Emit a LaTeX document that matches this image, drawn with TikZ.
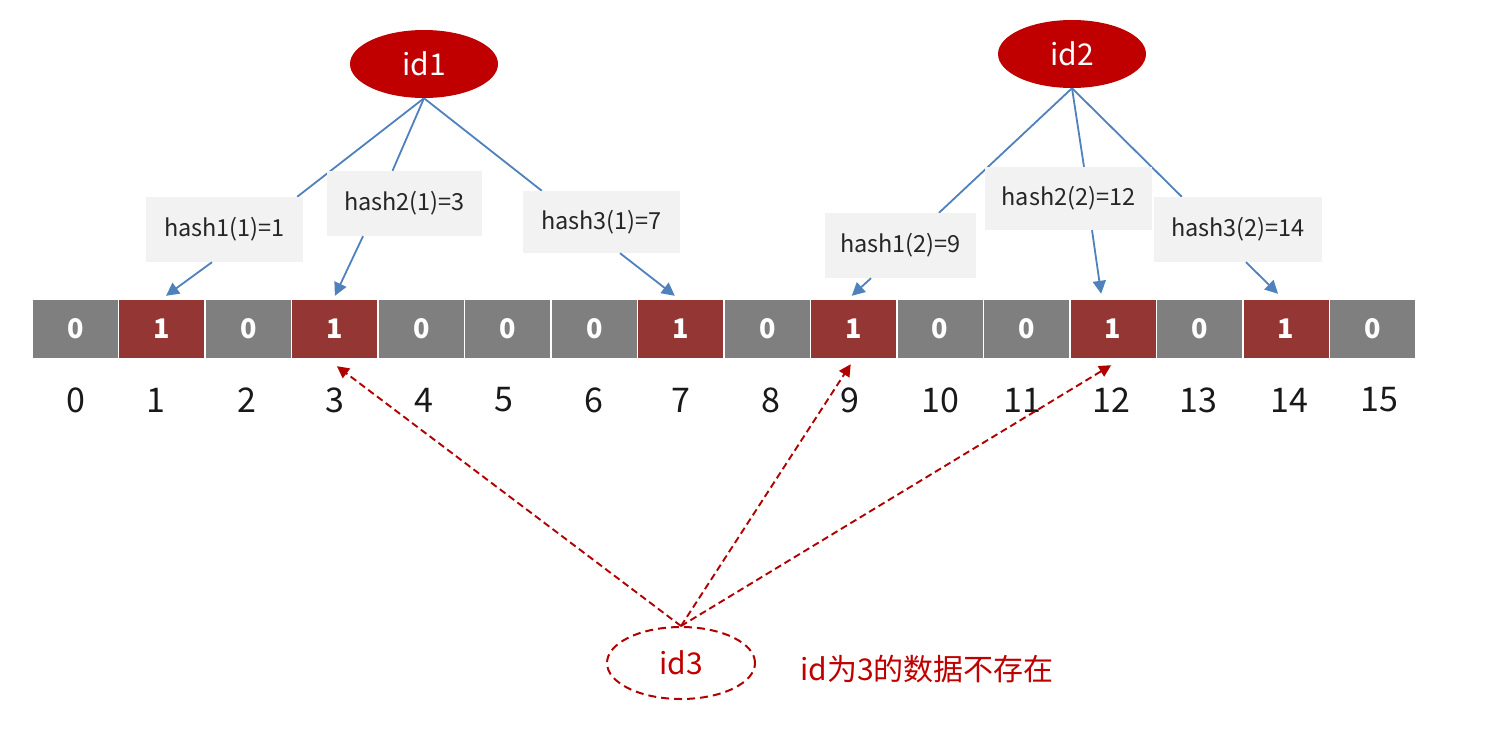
\documentclass[tikz,border=0pt]{standalone}
\usepackage{fontspec}
\setmainfont{Noto Sans CJK SC}
\usetikzlibrary{arrows.meta,shapes.geometric,calc,backgrounds}
\definecolor{cellgray}{HTML}{7F7F7F}
\definecolor{cellred}{HTML}{943634}
\definecolor{idred}{HTML}{C00000}
\definecolor{dashred}{HTML}{B00000}
\definecolor{lineblue}{HTML}{4F81BD}
\definecolor{boxgray}{HTML}{F2F2F2}
\begin{document}
\begin{tikzpicture}[x=1pt,y=-1pt,
  cellbox/.style={draw=none,minimum width=85pt,minimum height=58pt,inner sep=0pt,text=white,font=\fontsize{27}{30}\selectfont\bfseries},
  bit0/.style={cellbox,fill=cellgray},
  bit1/.style={cellbox,fill=cellred},
  idx/.style={font=\fontsize{34}{40}\selectfont,text=black!90,inner sep=0pt},
  hashbox/.style={fill=boxgray,draw=none,inner sep=0pt,font=\fontsize{23.5}{28}\selectfont,text=black!85},
  idellipse/.style={ellipse,fill=idred,draw=none,minimum width=148pt,minimum height=68pt,inner sep=0pt,text=white,font=\fontsize{30}{36}\selectfont},
  dashellipse/.style={ellipse,draw=dashred,line width=2pt,dash pattern=on 8pt off 5pt,minimum width=148pt,minimum height=72pt,inner sep=0pt,text=idred,font=\fontsize{30}{36}\selectfont},
  blueline/.style={draw=lineblue,line width=1.8pt},
  bluearrow/.style={draw=lineblue,line width=1.8pt,-{Triangle[width=13pt,length=13pt]}},
  redarrow/.style={draw=dashred,line width=1.9pt,dash pattern=on 7pt off 4pt,-{Triangle[width=12pt,length=12pt]}},
  note/.style={text=idred,font=\fontsize{30}{36}\selectfont,inner sep=0pt}
]
\useasboundingbox (0,0) rectangle (1503,733);

% bit array
\foreach \i/\v in {0/0,1/1,2/0,3/1,4/0,5/0,6/0,7/1,8/0,9/1,10/0,11/0,12/1,13/0,14/1,15/0} {
  \pgfmathsetmacro\cx{33+86.47*\i+42.5}
  \node[bit\v] (c\i) at (\cx,329) {\v};
}

% index labels
\foreach \i/\x in {0/76,1/156,2/247,3/335,4/424,5/504,6/594,7/681,8/771,9/850,10/940,11/1022,12/1111,13/1198,14/1289,15/1379} {
  \node[idx] (n\i) at (\x,400) {\i};
}

% source ellipses
\node[idellipse] (id1) at (424,64) {id1};
\node[idellipse] (id2) at (1072,54) {id2};

% hash boxes
\node[hashbox,minimum width=157pt,minimum height=65pt] (h11) at (224.5,229.5) {\raisebox{2pt}{hash1(1)=1}};
\node[hashbox,minimum width=155pt,minimum height=65pt] (h21) at (404.5,203.5) {\raisebox{2pt}{hash2(1)=3}};
\node[hashbox,minimum width=157pt,minimum height=62pt] (h31) at (601.5,222) {\raisebox{2pt}{hash3(1)=7}};
\node[hashbox,minimum width=151pt,minimum height=65pt] (h12) at (900.5,245.5) {\raisebox{2pt}{hash1(2)=9}};
\node[hashbox,minimum width=167pt,minimum height=63pt] (h22) at (1068.5,198.5) {\raisebox{2pt}{hash2(2)=12}};
\node[hashbox,minimum width=168pt,minimum height=65pt] (h32) at (1238,229.5) {\raisebox{2pt}{hash3(2)=14}};

% lines from ids to boxes (behind boxes)
\begin{scope}[on background layer]
\fill[white] (0,0) rectangle (1503,733);
\path[blueline] (id1.south) -- ($(h11.north east)+(-6,0)$);
\path[blueline] (id1.south) -- ($(h21.north)+(-12,0)$);
\path[blueline] (id1.south) -- ($(h31.north west)+(19,0)$);
\path[blueline] (id2.south) -- ($(h12.north)+(38.5,0)$);
\path[blueline] (id2.south) -- ($(h22.north)+(15.5,0)$);
\path[blueline] (id2.south) -- ($(h32.north west)+(28,0)$);
\end{scope}

% arrows from boxes to cells
\path[bluearrow] ($(h11.south)+(-12.5,0)$) -- ($(c1.north)+(4,-4)$);
\path[bluearrow] ($(h21.south)+(-41.5,0)$) -- ($(c3.north)+(0,-4)$);
\path[bluearrow] ($(h31.south)+(18.5,0)$) -- ($(c7.north)+(-6,-4)$);
\path[bluearrow] ($(h12.south)+(-29.5,0)$) -- ($(c9.north)+(-2,-4)$);
\path[bluearrow] ($(h22.south)+(23.5,0)$) -- ($(c12.north)+(-12,-6)$);
\path[bluearrow] ($(h32.south)+(8,0)$) -- ($(c14.north)+(-8,-6)$);

% query
\node[dashellipse] (id3) at (681,663) {id3};
\node[note,anchor=west] (msg) at (800,669) {id为3的数据不存在};
\path[redarrow] (id3.north) -- ($(c3.south)+(2,8)$);
\path[redarrow] (id3.north) -- ($(c9.south)+(-3,6)$);
\path[redarrow] (id3.north) -- ($(c12.south)+(-2,7)$);
\end{tikzpicture}
\end{document}
